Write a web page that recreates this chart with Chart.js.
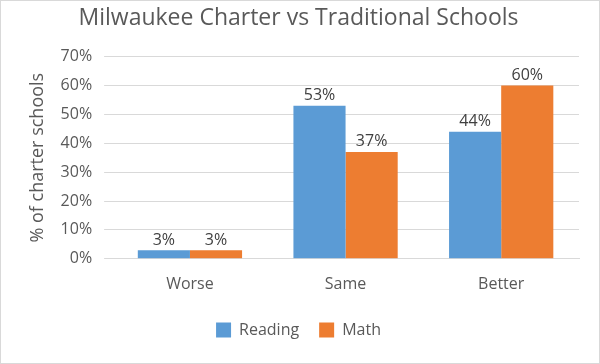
<!DOCTYPE html>
<html><head><meta charset="utf-8">
<script src="https://cdn.jsdelivr.net/npm/chart.js"></script>
<style>
html,body{margin:0;padding:0;background:#fff;}
#wrap{position:absolute;left:0;top:0;width:598px;height:362px;border:1px solid #d9d9d9;}
</style></head><body>
<div id="wrap"><canvas id="c" width="598" height="362"></canvas></div>
<script>
const categories = ["Worse", "Same", "Better"];
const reading = [3, 53, 44];
const math = [3, 37, 60];
const yTicks = [0, 10, 20, 30, 40, 50, 60, 70];

const labelPlugin = {
  id: 'labels',
  afterDatasetsDraw(chart) {
    const ctx = chart.ctx;
    ctx.save();
    ctx.font = '16px "Open Sans", sans-serif';
    ctx.fillStyle = '#404040';
    ctx.textAlign = 'center';
    ctx.textBaseline = 'bottom';
    chart.data.datasets.forEach((ds, i) => {
      chart.getDatasetMeta(i).data.forEach((bar, j) => {
        ctx.fillText(ds.data[j] + '%', bar.x, bar.y - 2);
      });
    });
    ctx.restore();
  }
};

new Chart(document.getElementById('c'), {
  type: 'bar',
  data: {
    labels: categories,
    datasets: [
      { label: 'Reading', data: reading, backgroundColor: '#5B9BD5', categoryPercentage: 0.67, barPercentage: 1.0 },
      { label: 'Math', data: math, backgroundColor: '#ED7D31', categoryPercentage: 0.67, barPercentage: 1.0 }
    ]
  },
  options: {
    responsive: false,
    animation: false,
    layout: { padding: { left: 17, right: 20, top: 0, bottom: 15 } },
    plugins: {
      title: { display: true, text: 'Milwaukee Charter vs Traditional Schools', color: '#595959',
        font: { family: '"Open Sans", sans-serif', size: 23, weight: 'normal' }, padding: { top: 4, bottom: 24 } },
      legend: { position: 'bottom', labels: { color: '#595959', boxWidth: 15, boxHeight: 15,
        font: { family: '"Open Sans", sans-serif', size: 16 }, padding: 20 } },
      tooltip: { enabled: false }
    },
    scales: {
      x: {
        grid: { display: false },
        border: { color: '#d9d9d9' },
        ticks: { color: '#595959', font: { family: '"Open Sans", sans-serif', size: 16 }, padding: 8 }
      },
      y: {
        min: 0, max: 70,
        afterBuildTicks(axis) { axis.ticks = yTicks.map(v => ({ value: v })); },
        grid: { color: '#d9d9d9' },
        border: { display: false },
        ticks: { color: '#595959', font: { family: '"Open Sans", sans-serif', size: 16 }, padding: 12,
          callback: v => v + '%' },
        title: { display: true, text: '% of charter schools', color: '#595959',
          font: { family: '"Open Sans", sans-serif', size: 18 }, padding: { top: 9, bottom: 0 } }
      }
    }
  },
  plugins: [labelPlugin]
});
</script>
</body></html>
